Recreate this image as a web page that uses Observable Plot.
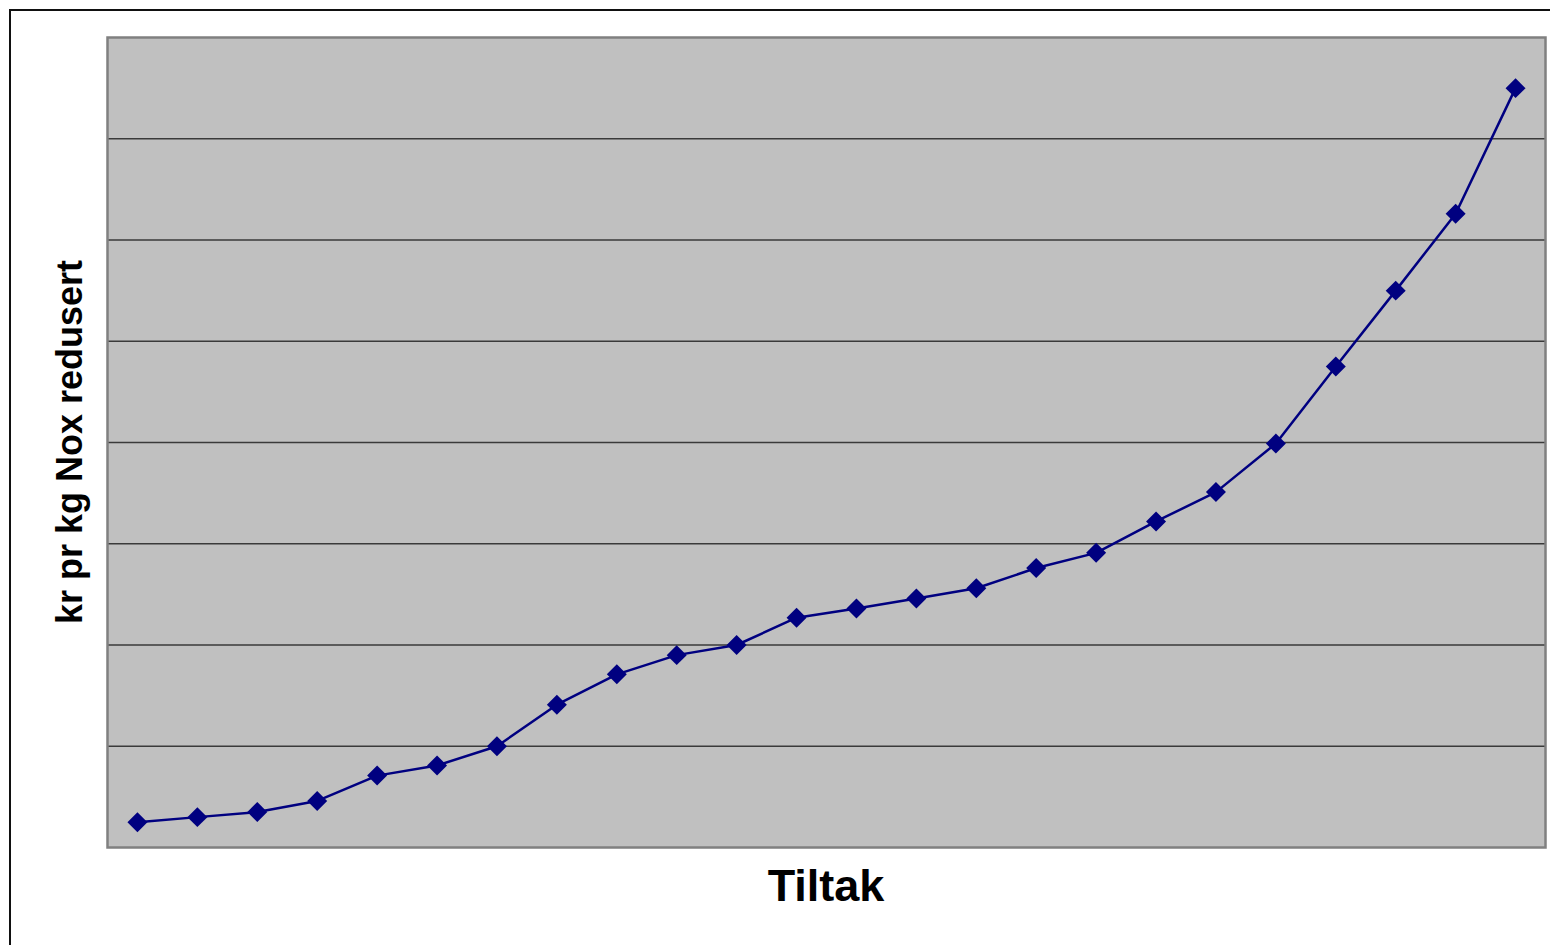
<!DOCTYPE html>
<html>
<head>
<meta charset="utf-8">
<script src="https://cdn.jsdelivr.net/npm/d3@7"></script>
<script src="https://cdn.jsdelivr.net/npm/@observablehq/plot@0.6"></script>
<style>
  html, body { margin: 0; padding: 0; background: #fff; overflow: hidden; }
  #wrap { position: relative; width: 1550px; height: 945px; }
  #frame { position: absolute; left: 9px; top: 9px; width: 1700px; height: 1100px;
           border: 2px solid #111; box-sizing: border-box; pointer-events: none; }
  #chart { position: absolute; left: 0; top: 0; }
</style>
</head>
<body>
<div id="wrap">
  <div id="chart"></div>
  <div id="frame"></div>
</div>
<script>
// Data
const categories = ["1","2","3","4","5","6","7","8","9","10","11","12","13","14","15","16","17","18","19","20","21","22","23","24"];
const values = [0.25, 0.30, 0.35, 0.46, 0.71, 0.81, 1.00, 1.41, 1.71, 1.90, 2.00, 2.27, 2.36, 2.46, 2.56, 2.76, 2.91, 3.22, 3.51, 3.99, 4.75, 5.50, 6.26, 7.50];
const gridValues = [1, 2, 3, 4, 5, 6, 7];
const yDomain = [0, 8];
const xTitle = "Tiltak";
const yTitle = "kr pr kg Nox redusert";

const data = categories.map((c, i) => ({ cat: c, value: values[i] }));

const W = 1550, H = 945;
const mL = 107, mT = 37, mR = 5, mB = 98;

const chart = Plot.plot({
  width: W,
  height: H,
  marginLeft: mL,
  marginTop: mT,
  marginRight: mR,
  marginBottom: mB,
  style: { background: "transparent", fontFamily: "'Liberation Sans', Arial, sans-serif" },
  x: { type: "point", domain: categories, padding: 0.5, round: false, axis: null },
  y: { domain: yDomain, axis: null },
  marks: [
    Plot.frame({ fill: "#C0C0C0", stroke: "none" }),
    Plot.ruleY(gridValues, { stroke: "#3a3a3a", strokeWidth: 1.3 }),
    Plot.frame({ stroke: "#808080", strokeWidth: 2.5 }),
    Plot.line(data, { x: "cat", y: "value", stroke: "#000080", strokeWidth: 2.5 }),
    Plot.dot(data, { x: "cat", y: "value", symbol: "diamond2", r: 9, fill: "#000080", stroke: "none" })
  ]
});

const svg = d3.select(chart);
svg.append("text")
  .attr("x", mL + (W - mL - mR) / 2)
  .attr("y", 901)
  .attr("text-anchor", "middle")
  .attr("font-family", "'Liberation Sans', Arial, sans-serif")
  .attr("font-weight", "bold")
  .attr("font-size", 45)
  .attr("fill", "#000")
  .text(xTitle);
svg.append("text")
  .attr("transform", `translate(82, ${mT + (H - mT - mB) / 2}) rotate(-90)`)
  .attr("text-anchor", "middle")
  .attr("font-family", "'Liberation Sans', Arial, sans-serif")
  .attr("font-weight", "bold")
  .attr("font-size", 36)
  .attr("fill", "#000")
  .text(yTitle);

document.getElementById("chart").appendChild(chart);
</script>
</body>
</html>
